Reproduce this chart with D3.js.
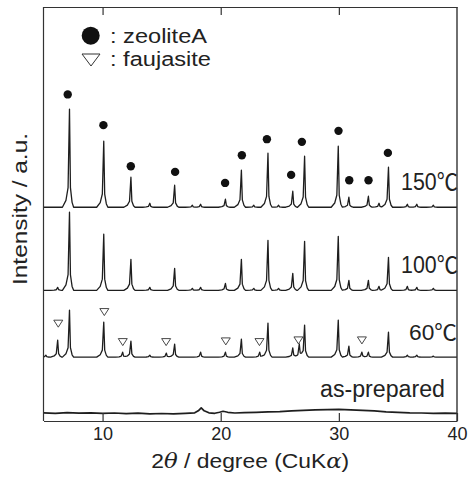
<!DOCTYPE html>
<html>
<head>
<meta charset="utf-8">
<script src="https://cdn.jsdelivr.net/npm/d3@7"></script>
<style>
  body { margin: 0; background: #fff; }
  text { font-family: "Liberation Sans", Arial, "Noto Sans CJK JP", sans-serif; fill: #222; }
</style>
</head>
<body>
<div id="xrd"></div>
<script>
// peak lists: [2theta, height above the trace baseline]
var peaks150 = [[7.2, 98], [10.1, 66], [12.4, 30], [14.0, 4], [16.1, 22], [17.6, 2], [18.3, 3],
  [20.4, 8], [21.75, 37], [22.8, 2], [24.0, 54], [24.9, 2], [26.1, 16], [27.1, 51], [29.95, 61],
  [30.85, 10], [32.5, 11], [33.4, 4], [34.2, 40], [35.8, 3], [36.6, 3], [38.0, 2]];
var peaks100 = [[6.2, 3], [7.2, 78], [10.1, 56], [12.4, 31], [14.0, 3], [16.1, 22], [17.6, 2], [18.3, 3],
  [20.4, 7], [21.75, 31], [22.8, 2], [24.0, 50], [24.9, 2], [26.1, 17], [27.1, 49], [29.95, 54],
  [30.85, 10], [32.5, 10], [33.4, 4], [34.2, 33], [35.8, 4], [36.6, 3], [38.0, 2]];
var peaks60 = [[5.2, 2], [6.2, 17], [7.2, 47], [10.1, 35], [11.7, 5], [12.4, 16], [14.0, 2], [15.4, 4],
  [16.1, 13], [18.3, 5], [20.4, 5], [21.75, 18], [23.3, 5], [24.0, 34], [26.1, 9], [26.65, 12],
  [27.1, 32], [29.95, 37], [30.85, 11], [31.95, 5], [32.5, 5], [34.2, 25], [35.8, 2], [36.6, 2], [38.0, 1]];
// as-prepared trace, points read directly
var asPrepared = [[5, 1], [6, 0.5], [7, 1.2], [8, 0.6], [9, 1], [10, 0.4], [11, 0.8], [12, 0.2],
  [13, 0.6], [14, 0], [15, 0.3], [16, 0], [17, 0.5], [17.8, 1], [18.1, 3], [18.35, 6], [18.6, 3],
  [19.0, 1], [19.5, 0.5], [19.9, 1.5], [20.2, 2.5], [20.6, 1.5], [21.2, 0.8], [22, 1.2], [23, 1.5],
  [24, 2], [25, 2.2], [26, 3], [27, 3.5], [28, 4], [29, 4.2], [30, 4.5], [31, 4], [32, 3.5], [33, 3],
  [34, 2], [35, 1.5], [36, 1], [37, 0.8], [38, 0.5], [39, 0.6], [40, 0.4]];

var seriesNames = ["150℃", "100℃", "60℃", "as-prepared"];
var seriesOffsets = [213.5, 130.5, 63.8, 7.2];

// marker positions: [2theta, level above the 150℃ / 60℃ baseline]
var zeoliteMarks = [[7.05, 112.7], [10.07, 82], [12.39, 41], [16.14, 35.3], [20.37, 24.3], [21.79, 52],
  [23.91, 68], [25.96, 32.3], [26.87, 65.3], [29.97, 76.3], [30.88, 27], [32.51, 27], [34.15, 54.3]];
var faujasiteMarks = [[6.25, 33.4], [10.15, 45], [11.71, 15], [15.38, 15], [20.43, 15.7],
  [23.28, 15], [26.58, 16.7], [31.95, 16.7]];

var xTicks = [10, 20, 30, 40];

// set the dimensions and margins of the graph
var margin = { top: 7, right: 12, bottom: 56, left: 43.5 },
  width = 469 - margin.left - margin.right,
  height = 477 - margin.top - margin.bottom;

var svg = d3.select("#xrd")
  .append("svg")
  .attr("width", 469)
  .attr("height", 477)
  .append("g")
  .attr("transform", "translate(" + margin.left + "," + margin.top + ")");

var x = d3.scaleLinear().domain([5, 40]).range([0, width]);
var y = d3.scaleLinear().domain([0, 413.5]).range([height, 0]);

// peak drawing shape (sharp top, longer tail on the low-angle side)
var profile = [[-0.6, 0], [-0.3, 0.07], [-0.12, 0.2], [0, 1], [0.08, 0.2], [0.22, 0.05], [0.35, 0]];

function shapeAt(dx) {
  if (dx <= profile[0][0] || dx >= profile[profile.length - 1][0]) return 0;
  for (var i = 1; i < profile.length; i++) {
    if (dx <= profile[i][0]) {
      var a = profile[i - 1], b = profile[i];
      return a[1] + (b[1] - a[1]) * (dx - a[0]) / (b[0] - a[0]);
    }
  }
  return 0;
}

function tracePoints(peaks) {
  var xs = [5, 40];
  peaks.forEach(function(p) {
    profile.forEach(function(q) {
      var v = p[0] + q[0];
      if (v > 5 && v < 40) xs.push(v);
    });
  });
  xs.sort(d3.ascending);
  return xs.map(function(v) {
    var s = 0;
    peaks.forEach(function(p) { s += p[1] * shapeAt(v - p[0]); });
    return [v, s];
  });
}

var traces = [tracePoints(peaks150), tracePoints(peaks100), tracePoints(peaks60), asPrepared];

var line = d3.line()
  .x(function(d) { return x(d[0]); });

traces.forEach(function(t, i) {
  svg.append("path")
    .datum(t)
    .attr("fill", "none")
    .attr("stroke", "#1e1e1e")
    .attr("stroke-width", i == 3 ? 1.7 : 1.3)
    .attr("stroke-linejoin", "round")
    .attr("d", line.y(function(d) { return y(d[1] + seriesOffsets[i]); }));
});

// sample labels
var labelRight = [458, 458, 457, 445];
var labelLen = [57, 57, 48, 125];
var labelSize = [23, 23, 22, 23];
seriesNames.forEach(function(name, i) {
  svg.append("text")
    .attr("x", labelRight[i] - margin.left)
    .attr("y", y(seriesOffsets[i] + 17))
    .attr("text-anchor", "end")
    .attr("textLength", labelLen[i])
    .attr("lengthAdjust", "spacingAndGlyphs")
    .style("font-size", labelSize[i] + "px")
    .text(name);
});

// zeolite A markers
svg.selectAll(".zeo")
  .data(zeoliteMarks)
  .enter()
  .append("circle")
  .attr("class", "zeo")
  .attr("cx", function(d) { return x(d[0]); })
  .attr("cy", function(d) { return y(d[1] + seriesOffsets[0]); })
  .attr("r", 4.2)
  .attr("fill", "#111");

// faujasite markers
function tri(cx, cy, w, h) {
  return "M" + (cx - w / 2) + "," + (cy - h / 2) + "L" + (cx + w / 2) + "," + (cy - h / 2) +
    "L" + cx + "," + (cy + h / 2) + "Z";
}
svg.selectAll(".fau")
  .data(faujasiteMarks)
  .enter()
  .append("path")
  .attr("class", "fau")
  .attr("d", function(d) { return tri(x(d[0]), y(d[1] + seriesOffsets[2]), 9, 7); })
  .attr("fill", "none")
  .attr("stroke", "#333")
  .attr("stroke-width", 0.9);

// axes: inward ticks on bottom and top, plain lines left and right
svg.append("g")
  .attr("transform", "translate(0," + height + ")")
  .call(d3.axisBottom(x).tickValues(xTicks).tickSizeInner(-8).tickSizeOuter(0).tickPadding(6))
  .call(function(g) {
    g.selectAll("text").style("font-size", "18px").style("font-family", null);
    g.selectAll("line, path").attr("stroke", "#333").attr("stroke-width", 1.2);
  });

svg.append("g")
  .call(d3.axisTop(x).tickValues(xTicks.slice(0, 3)).tickSizeInner(-8).tickSizeOuter(0).tickFormat(""))
  .call(function(g) {
    g.selectAll("line, path").attr("stroke", "#333").attr("stroke-width", 1.2);
  });

svg.append("line").attr("x1", 0).attr("x2", 0).attr("y1", 0).attr("y2", height)
  .attr("stroke", "#333").attr("stroke-width", 1.2);
svg.append("line").attr("x1", width).attr("x2", width).attr("y1", 0).attr("y2", height)
  .attr("stroke", "#333").attr("stroke-width", 1.4);

// axis titles
var xTitle = svg.append("text")
  .attr("x", width / 2)
  .attr("y", 468 - margin.top)
  .attr("text-anchor", "middle")
  .attr("textLength", 198)
  .attr("lengthAdjust", "spacingAndGlyphs")
  .style("font-size", "20px");
xTitle.append("tspan").text("2");
xTitle.append("tspan").style("font-style", "italic").style("font-family", "DejaVu Serif, serif").text("θ");
xTitle.append("tspan").text(" / degree (CuK");
xTitle.append("tspan").style("font-style", "italic").style("font-family", "DejaVu Serif, serif").text("α");
xTitle.append("tspan").text(")");

svg.append("text")
  .attr("transform", "translate(" + (26.7 - margin.left) + "," + (209 - margin.top) + ") rotate(-90)")
  .attr("text-anchor", "middle")
  .attr("textLength", 152)
  .attr("lengthAdjust", "spacingAndGlyphs")
  .style("font-size", "21px")
  .text("Intensity / a.u.");

// legend
svg.append("circle")
  .attr("cx", 90.7 - margin.left)
  .attr("cy", 35.7 - margin.top)
  .attr("r", 9)
  .attr("fill", "#111");
svg.append("path")
  .attr("d", tri(91 - margin.left, 60 - margin.top, 18, 12))
  .attr("fill", "none")
  .attr("stroke", "#333")
  .attr("stroke-width", 1);
svg.append("text")
  .attr("x", 110 - margin.left)
  .attr("y", 43 - margin.top)
  .attr("textLength", 97)
  .attr("lengthAdjust", "spacingAndGlyphs")
  .style("font-size", "20px")
  .text(": zeoliteA");
svg.append("text")
  .attr("x", 110 - margin.left)
  .attr("y", 66 - margin.top)
  .attr("textLength", 101)
  .attr("lengthAdjust", "spacingAndGlyphs")
  .style("font-size", "20px")
  .text(": faujasite");
</script>
</body>
</html>
